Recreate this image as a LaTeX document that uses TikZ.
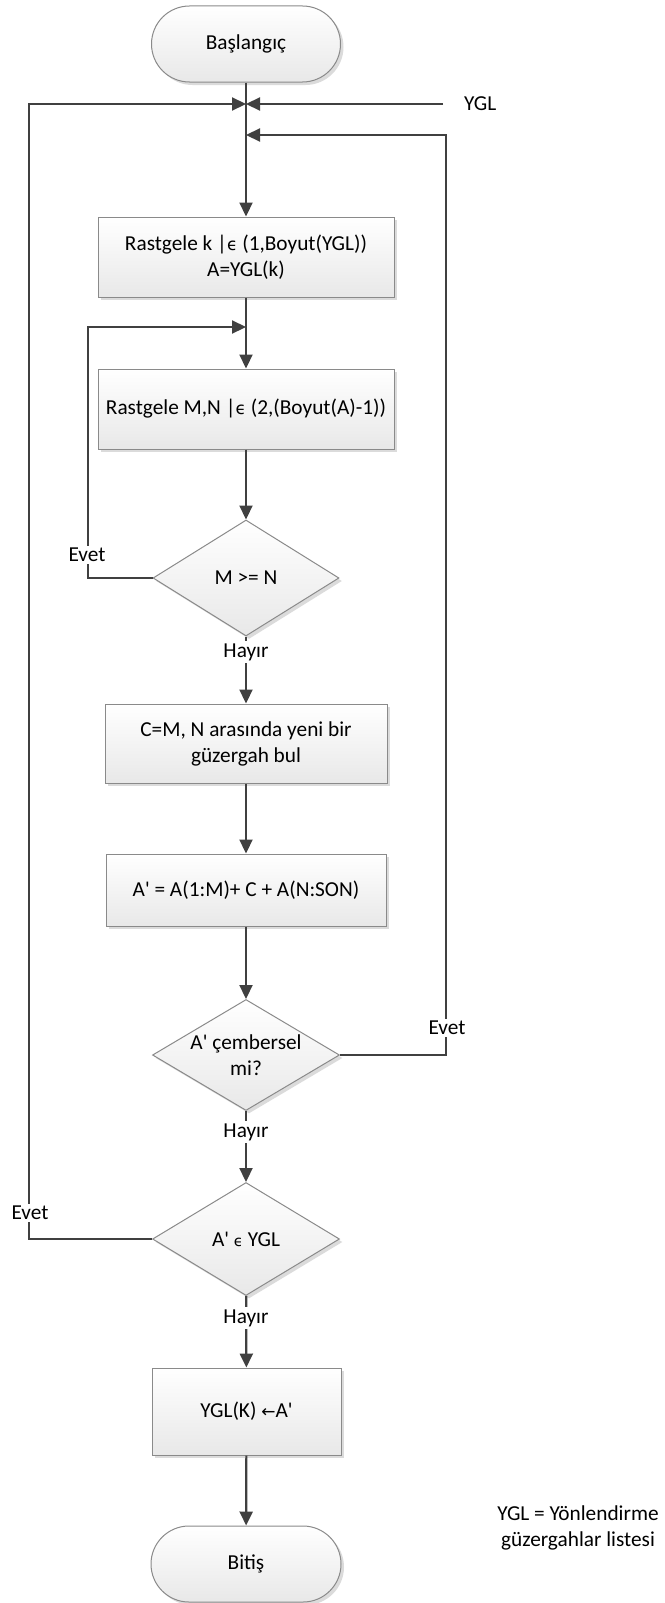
\documentclass[tikz,border=0pt]{standalone}
\usepackage{fontspec}
\newfontfamily\calfont{Carlito}
\newfontfamily\symfont{DejaVu Sans}
\usetikzlibrary{arrows.meta,shapes.geometric,shadows}
\definecolor{linegray}{HTML}{404040}
\definecolor{edgegray}{HTML}{8A8A8A}
\begin{document}
\begin{tikzpicture}[x=1pt,y=-1pt,
  font=\calfont\fontsize{21.3}{26}\selectfont,
  shapebase/.style={draw=edgegray, line width=1pt, top color=white, bottom color=black!9,
    align=center, inner sep=0pt,
    drop shadow={shadow xshift=3pt, shadow yshift=-3pt, fill=black, opacity=0.14}},
  procbox/.style={shapebase, rectangle},
  termbox/.style={shapebase, rectangle, rounded corners=38pt},
  decbox/.style={shapebase, diamond, aspect=1.6},
  flow/.style={draw=linegray, line width=2.2pt, -{Triangle[width=13pt,length=14pt]}},
  plain/.style={draw=linegray, line width=2.2pt},
  lbl/.style={fill=white, inner sep=2pt}
]
\useasboundingbox (0,0) rectangle (664,1603);

% main column
\node[termbox, minimum width=189, minimum height=76] (start) at (246,44) {Başlangıç};
\node[procbox, minimum width=296, minimum height=80] (pick) at (246,257)
  {Rastgele k |{\symfont\fontsize{17}{20}\selectfont ϵ} (1,Boyut(YGL))\\A=YGL(k)};
\node[procbox, minimum width=296, minimum height=80] (mn) at (246,409)
  {Rastgele M,N |{\symfont\fontsize{17}{20}\selectfont ϵ} (2,(Boyut(A)-1))};
\node[decbox, minimum width=186, minimum height=116] (cmp) at (246,578) {M >= N};
\node[procbox, minimum width=282, minimum height=79] (find) at (246,743.5)
  {C=M, N arasında yeni bir\\güzergah bul};
\node[procbox, minimum width=280, minimum height=72] (join) at (246,890)
  {A' = A(1:M)+ C + A(N:SON)};
\node[decbox, minimum width=187, minimum height=111] (circ) at (246,1055) {A' çembersel\\mi?};
\node[decbox, minimum width=187, minimum height=113] (inl) at (246,1239)
  {A' {\symfont\fontsize{15}{18}\selectfont ϵ} YGL};
\node[procbox, minimum width=189, minimum height=87] (store) at (246.5,1411.5)
  {YGL(K) {\symfont\fontsize{17}{20}\selectfont ←}A'};
\node[termbox, minimum width=190, minimum height=76] (stop) at (246,1564) {Bitiş};

% junction points and loop corners
\coordinate (j1) at (246,104);
\coordinate (j2) at (246,135);
\coordinate (j3) at (246,327);
\coordinate (yglin) at (443,104);
\coordinate (la) at (29,1239);
\coordinate (lb) at (29,104);
\coordinate (ra) at (446,1055);
\coordinate (rb) at (446,135);
\coordinate (ma) at (88,578);
\coordinate (mb) at (88,327);

% connectors
\draw[flow] (start) -- (pick);
\draw[flow] (pick) -- (mn);
\draw[flow] (mn) -- (cmp);
\draw[flow] (cmp) -- (find);
\draw[flow] (find) -- (join);
\draw[flow] (join) -- (circ);
\draw[flow] (circ) -- (inl);
\draw[flow] (inl) -- (store);
\draw[flow] (store) -- (stop);

\draw[flow] (inl.west) -- (la) -- (lb) -- (j1);
\draw[flow] (yglin) -- (j1);
\draw[flow] (circ.east) -- (ra) -- (rb) -- (j2);
\draw[flow] (cmp.west) -- (ma) -- (mb) -- (j3);

% labels
\node[anchor=west, inner sep=0pt] (ygl) at (464,104) {YGL};
\node[lbl] (e1) at (87,555) {Evet};
\node[lbl] (e2) at (447,1028) {Evet};
\node[lbl] (e3) at (30,1213) {Evet};
\node[lbl] (h1) at (246,652) {Hayır};
\node[lbl] (h2) at (246,1132) {Hayır};
\node[lbl] (h3) at (246,1318) {Hayır};
\node[align=center, inner sep=0pt] (legend) at (578,1528)
  {YGL = Yönlendirme\\güzergahlar listesi};
\end{tikzpicture}
\end{document}
